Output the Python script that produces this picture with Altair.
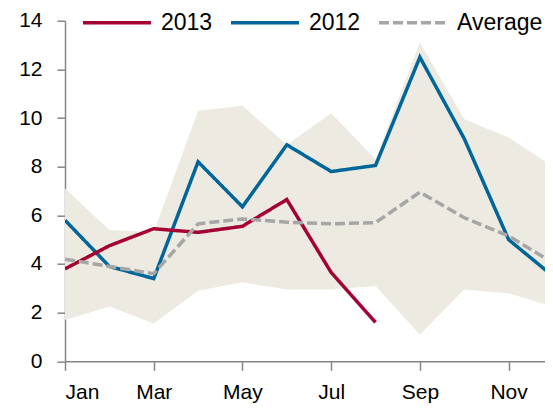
import altair as alt
import pandas as pd

months = ["Jan", "Feb", "Mar", "Apr", "May", "Jun", "Jul", "Aug", "Sep", "Oct", "Nov", "Dec"]
s2013 = [3.8, 4.75, 5.45, 5.3, 5.55, 6.65, 3.65, 1.6]
s2012 = [5.8, 3.9, 3.4, 8.2, 6.35, 8.9, 7.8, 8.05, 12.5, 9.15, 5.0, 3.5]
avg = [4.2, 3.9, 3.6, 5.65, 5.85, 5.72, 5.65, 5.7, 6.95, 5.9, 5.15, 4.05]
band_min = [1.7, 2.25, 1.55, 2.9, 3.25, 2.95, 2.95, 3.1, 1.1, 2.95, 2.8, 2.25]
band_max = [7.1, 5.4, 5.3, 10.3, 10.5, 8.9, 10.2, 8.3, 13.1, 9.95, 9.2, 8.0]

series_names = ["2013", "2012", "Average"]
colors = ["#A50034", "#00669A", "#A6A6A6"]

rows = []
for name, vals in [("2012", s2012), ("2013", s2013), ("Average", avg)]:
    for i, v in enumerate(vals):
        rows.append({"m": i, "month": months[i], "series": name, "value": v})
lines_df = pd.DataFrame(rows)
band_df = pd.DataFrame({"m": list(range(12)), "lo": band_min, "hi": band_max})

# plot is cut at the right edge just before December, as in the reference
xscale = alt.Scale(domain=[0, 10.82], nice=False, zero=False)
yscale = alt.Scale(domain=[0, 14], nice=False)

label_expr = "['" + "','".join(months) + "'][datum.value]"

band = alt.Chart(band_df).mark_area(color="#ECEAE1", clip=True).encode(
    x=alt.X("m:Q", scale=xscale, title=None,
            axis=alt.Axis(values=[0, 2, 4, 6, 8, 10], labelExpr=label_expr,
                          tickSize=9, labelPadding=11, grid=False)),
    y=alt.Y("lo:Q", scale=yscale, title=None,
            axis=alt.Axis(values=list(range(0, 15, 2)), tickSize=8,
                          labelPadding=15, grid=False)),
    y2="hi:Q",
)

leg = dict(title=None, orient="none", direction="horizontal",
           legendX=16, legendY=-34, symbolType="stroke",
           symbolSize=4624, symbolStrokeWidth=3.5,
           labelFontSize=23, labelFont="Liberation Sans",
           labelColor="#000000", labelOffset=8,
           columnPadding=11, padding=0)

lines = alt.Chart(lines_df).mark_line(strokeWidth=3.5, clip=True).encode(
    x=alt.X("m:Q", scale=xscale),
    y=alt.Y("value:Q", scale=yscale),
    color=alt.Color("series:N", sort=series_names,
                    scale=alt.Scale(domain=series_names, range=colors),
                    legend=alt.Legend(**leg)),
    strokeDash=alt.StrokeDash("series:N", sort=series_names,
                              scale=alt.Scale(domain=series_names,
                                              range=[[1, 0], [1, 0], [10, 4]]),
                              legend=alt.Legend(**leg)),
    order=alt.Order("m:Q"),
    detail="series:N",
)

chart = alt.layer(band, lines).properties(
    width=480, height=340.6,
    autosize=alt.AutoSizeParams(type="none"),
    padding={"left": 57, "top": 12.7, "right": 0, "bottom": 42.7},
    background="#FFFFFF",
).configure_view(stroke=None).configure_axis(
    domainColor="#868686", tickColor="#868686", domainWidth=1.5, tickWidth=1.5,
    labelFont="Liberation Sans", labelFontSize=21, labelColor="#000000",
)

chart.save("out.html", embed_options={"renderer": "svg", "actions": False})
